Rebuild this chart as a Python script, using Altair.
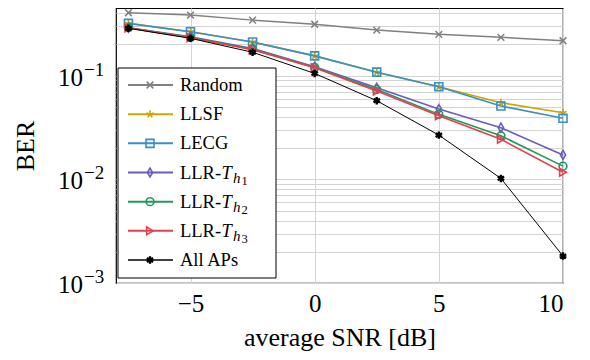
import altair as alt
import pandas as pd

# ---------------- data ----------------
snr = [-7.5, -5, -2.5, 0, 2.5, 5, 7.5, 10]
ber_random = [0.404, 0.384, 0.343, 0.313, 0.275, 0.250, 0.234, 0.217]
ber_llsf = [0.319, 0.265, 0.211, 0.155, 0.108, 0.078, 0.0548, 0.0439]
ber_lecg = [0.319, 0.265, 0.211, 0.155, 0.108, 0.078, 0.0509, 0.0388]
ber_th1 = [0.290, 0.237, 0.183, 0.122, 0.0764, 0.0476, 0.0315, 0.0172]
ber_th2 = [0.290, 0.234, 0.180, 0.120, 0.0736, 0.0423, 0.0263, 0.0134]
ber_th3 = [0.288, 0.232, 0.178, 0.119, 0.0710, 0.0410, 0.0243, 0.0117]
ber_all = [0.286, 0.229, 0.168, 0.105, 0.0573, 0.0267, 0.0102, 0.00182]

names = ["Random", "LLSF", "LECG", "LLR-Th1", "LLR-Th2", "LLR-Th3", "All APs"]
main_labels = ["Random", "LLSF", "LECG", "LLR-", "LLR-", "LLR-", "All APs"]
sub_digits = ["", "", "", "1", "2", "3", ""]
series = [ber_random, ber_llsf, ber_lecg, ber_th1, ber_th2, ber_th3, ber_all]

x_ticks = [-5, 0, 5, 10]
decades = [0.001, 0.01, 0.1]
decade_sup = ["\u22123", "\u22122", "\u22121"]
minor_vals = [0.001, 0.002, 0.003, 0.004, 0.005, 0.006, 0.007, 0.008, 0.009,
              0.01, 0.02, 0.03, 0.04, 0.05, 0.06, 0.07, 0.08, 0.09,
              0.1, 0.2, 0.3, 0.4]
caption = "Fig. 3: BER vs. SNR in dB for the different AP selection schemes."

# ---------------- styles ----------------
colors = ["#808080", "#c9a800", "#3b8fc9", "#6a5bbd", "#22995c", "#e3404e", "#000000"]
shapes = [
    "M-1,-1L1,1M-1,1L1,-1",
    "M0,0L0,-1M0,0L0.951,-0.309M0,0L0.588,0.809M0,0L-0.588,0.809M0,0L-0.951,-0.309",
    "square",
    "M0,-1.2L0.7,0L0,1.2L-0.7,0Z",
    "circle",
    "triangle-right",
    "M0,-1L0,1M-0.866,-0.5L0.866,0.5M-0.866,0.5L0.866,-0.5",
]
line_w = [1.5, 1.6, 1.6, 1.6, 1.6, 1.6, 1.0]
mark_w = [1.5, 1.6, 1.6, 1.6, 1.6, 1.6, 2.4]
mark_size = [45, 60, 64, 55, 60, 60, 55]

FONT = "Liberation Serif"
W, H = 447, 275
GRID = "#d4d4d4"

rows = []
for nm, vals in zip(names, series):
    for s, b in zip(snr, vals):
        rows.append({"name": nm, "snr": s, "ber": b})
df = pd.DataFrame(rows)

leg = pd.DataFrame({"name": names, "label": main_labels, "sub": sub_digits})

xs = alt.Scale(domain=[-8, 10], nice=False, zero=False)
ys = alt.Scale(type="log", domain=[0.001, 0.449], nice=False)
x_axis = alt.Axis(
    values=x_ticks, title="average SNR [dB]", grid=True, gridColor=GRID,
    gridWidth=1, ticks=False, domain=False, labelFont=FONT, labelFontSize=25,
    labelColor="black", labelPadding=8, titleFont=FONT, titleFontSize=26,
    titleFontWeight="normal", titleColor="black", titleY=54,
    titleBaseline="middle")
x_enc = alt.X("snr:Q", scale=xs, axis=x_axis)
legend_y = alt.Y("name:N", scale=alt.Scale(type="point", domain=names, range=[77, 252], padding=0),
                 axis=None)

layers = []

# axis / grid layer
axis_layer = alt.Chart(df).mark_point(opacity=0).encode(
    x=x_enc,
    y=alt.Y("ber:Q", scale=ys, axis=alt.Axis(
        values=minor_vals, labels=False, grid=True, gridColor=GRID, gridWidth=1,
        ticks=False, domain=False, title="BER", titleFont=FONT, titleFontSize=26,
        titleFontWeight="normal", titleColor="black", titleX=-91, titleY=H / 2,
        titleAngle=270, titleAlign="center", titleBaseline="middle")),
)
layers.append(axis_layer)

# y tick labels as text (10 with superscript)
ylab = pd.DataFrame({"v": decades, "sup": decade_sup})
layers.append(alt.Chart(ylab).mark_text(
    font=FONT, fontSize=25, align="right", baseline="middle", dy=2).encode(
    x=alt.value(-33), y=alt.Y("v:Q", scale=ys, axis=None), text=alt.value("10")))
layers.append(alt.Chart(ylab).mark_text(
    font=FONT, fontSize=19, align="left", baseline="middle", dy=-6).encode(
    x=alt.value(-32), y=alt.Y("v:Q", scale=ys, axis=None), text="sup:N"))

# series
for i, nm in enumerate(names):
    sub = df[df["name"] == nm]
    base = alt.Chart(sub)
    layers.append(base.mark_line(color=colors[i], strokeWidth=line_w[i]).encode(
        x=x_enc, y=alt.Y("ber:Q", scale=ys, axis=None)))
    layers.append(base.mark_point(
        shape=shapes[i], color=colors[i], filled=False, size=mark_size[i],
        strokeWidth=mark_w[i], opacity=1).encode(
        x=x_enc, y=alt.Y("ber:Q", scale=ys, axis=None)))

# legend box
box = pd.DataFrame({"k": [0]})
layers.append(alt.Chart(box).mark_rect(fill="white", stroke="black", strokeWidth=1).encode(
    x=alt.value(2), x2=alt.value(160), y=alt.value(60), y2=alt.value(270)))

for i, nm in enumerate(names):
    one = leg[leg["name"] == nm]
    b = alt.Chart(one)
    layers.append(b.mark_rule(color=colors[i], strokeWidth=line_w[i] + 0.4).encode(
        x=alt.value(12), x2=alt.value(57), y=legend_y))
    layers.append(b.mark_point(
        shape=shapes[i], color=colors[i], filled=False, size=mark_size[i],
        strokeWidth=mark_w[i], opacity=1).encode(x=alt.value(34), y=legend_y))

layers.append(alt.Chart(leg).mark_text(
    font=FONT, fontSize=18.5, align="left", baseline="middle", color="black").encode(
    x=alt.value(64), y=legend_y, text="label:N"))
th = leg[leg["sub"] != ""]
layers.append(alt.Chart(th).mark_text(
    font=FONT, fontSize=18.5, fontStyle="italic", align="left", baseline="middle").encode(
    x=alt.value(105.5), y=legend_y, text=alt.value("T")))
layers.append(alt.Chart(th).mark_text(
    font=FONT, fontSize=15, fontStyle="italic", align="left", baseline="middle", dy=5).encode(
    x=alt.value(117), y=legend_y, text=alt.value("h")))
layers.append(alt.Chart(th).mark_text(
    font=FONT, fontSize=12.5, align="left", baseline="middle", dy=8).encode(
    x=alt.value(125.5), y=legend_y, text="sub:N"))

# caption (cut off at the bottom edge, as in the reference)
cap = pd.DataFrame({"t": [caption]})
layers.append(alt.Chart(cap).mark_text(
    font=FONT, fontSize=20, align="left", baseline="alphabetic").encode(
    x=alt.value(-108), y=alt.value(360), text="t:N"))

chart = alt.layer(*layers).resolve_scale(y="independent").properties(
    width=W, height=H,
    autosize=alt.AutoSizeParams(type="none"),
    padding={"left": 108, "top": 0, "right": 19, "bottom": 69},
).configure_view(stroke="black", strokeWidth=1.2)

chart.save("out.html", embed_options={"renderer": "svg", "actions": False})
